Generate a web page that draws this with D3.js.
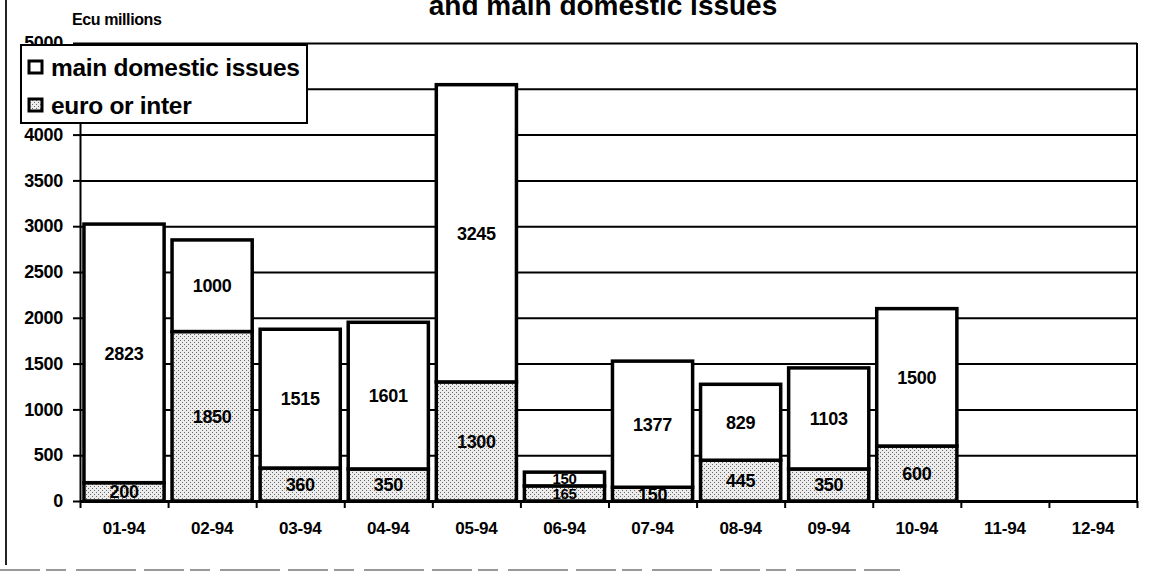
<!DOCTYPE html>
<html>
<head>
<meta charset="utf-8">
<script src="https://cdn.jsdelivr.net/npm/d3@7"></script>
<style>
  body { margin: 0; background: #fff; }
  svg { display: block; font-family: "Liberation Sans", Arial, sans-serif; font-weight: bold; }
</style>
</head>
<body>
<div class="chart"></div>
<script>
// Data
const months = ["01-94", "02-94", "03-94", "04-94", "05-94", "06-94",
                "07-94", "08-94", "09-94", "10-94", "11-94", "12-94"];
const euroOrInter = [200, 1850, 360, 350, 1300, 165, 150, 445, 350, 600, null, null];
const mainDomestic = [2823, 1000, 1515, 1601, 3245, 150, 1377, 829, 1103, 1500, null, null];
const yTicks = [0, 500, 1000, 1500, 2000, 2500, 3000, 3500, 4000, 4500, 5000];
const seriesNames = ["main domestic issues", "euro or inter"];

const W = 1157, H = 572;
const plot = { left: 80, right: 1137, top: 43, bottom: 501 };

const svg = d3.select(".chart")
    .append("svg")
    .attr("width", W)
    .attr("height", H);

// stipple pattern for the "euro or inter" part
const defs = svg.append("defs");
const pat = defs.append("pattern")
    .attr("id", "dots")
    .attr("width", 4)
    .attr("height", 4)
    .attr("patternUnits", "userSpaceOnUse");
pat.append("rect").attr("width", 4).attr("height", 4).attr("fill", "#ececec");
pat.append("rect").attr("x", 0).attr("y", 0).attr("width", 1).attr("height", 1).attr("fill", "#6a6a6a");
pat.append("rect").attr("x", 2).attr("y", 2).attr("width", 1).attr("height", 1).attr("fill", "#6a6a6a");

// scales
const x = d3.scaleBand()
    .domain(months)
    .range([plot.left, plot.right])
    .paddingInner(0.09)
    .paddingOuter(0.045);

const xEdge = d3.scaleLinear()
    .domain([0, months.length])
    .range([plot.left, plot.right]);

const y = d3.scaleLinear()
    .domain([0, 5000])
    .range([plot.bottom, plot.top]);

// outer frame remains of the scanned page
svg.append("line")
    .attr("x1", 6).attr("x2", 6).attr("y1", 0).attr("y2", 565)
    .attr("stroke", "#222").attr("stroke-width", 2);
svg.append("line")
    .attr("x1", 0).attr("x2", 900).attr("y1", 570).attr("y2", 570)
    .attr("stroke", "#999").attr("stroke-width", 2)
    .attr("stroke-dasharray", "40 6 20 10 60 8");

// title (cut off at the top in the original)
svg.append("text")
    .attr("x", 603)
    .attr("y", 15)
    .attr("text-anchor", "middle")
    .attr("font-size", 28)
    .text("and main domestic issues");

svg.append("text")
    .attr("x", 72)
    .attr("y", 25)
    .attr("font-size", 16)
    .attr("letter-spacing", -0.4)
    .text("Ecu millions");

// horizontal gridlines
svg.append("g")
    .attr("class", "grid")
    .attr("transform", `translate(${plot.left},0)`)
    .call(d3.axisLeft(y).tickValues(yTicks.slice(1)).tickSize(-(plot.right - plot.left)).tickFormat(""))
    .call(g => g.select(".domain").remove())
    .call(g => g.selectAll("line").attr("stroke", "#000").attr("stroke-width", 2));

// right border of the plot
svg.append("line")
    .attr("x1", plot.right).attr("x2", plot.right)
    .attr("y1", plot.top).attr("y2", plot.bottom)
    .attr("stroke", "#000").attr("stroke-width", 2);

// y axis
svg.append("g")
    .attr("class", "y-axis")
    .attr("transform", `translate(${plot.left},0)`)
    .call(d3.axisLeft(y).tickValues(yTicks).tickFormat(d3.format("d"))
        .tickSize(7).tickSizeOuter(0).tickPadding(10))
    .call(g => g.select(".domain").attr("stroke", "#000").attr("stroke-width", 2))
    .call(g => g.selectAll("line").attr("stroke", "#000").attr("stroke-width", 2))
    .call(g => g.selectAll("text").attr("font-size", 18).attr("fill", "#000")
        .attr("font-family", "Liberation Sans, Arial, sans-serif").attr("font-weight", "bold")
        .attr("letter-spacing", -0.3));

// stacked bars
const rows = months.map((m, i) => ({ month: m, euro: euroOrInter[i], main: mainDomestic[i] }))
    .filter(d => d.euro != null);

const stack = d3.stack().keys(["euro", "main"]);
const layers = stack(rows);
const fills = { euro: "url(#dots)", main: "#fff" };

const layerG = svg.selectAll(".layer")
    .data(layers)
    .enter()
    .append("g")
    .attr("class", "layer");

layerG.selectAll("rect")
    .data(d => d.map(p => ({ key: d.key, p })))
    .enter()
    .append("rect")
    .attr("x", d => x(d.p.data.month))
    .attr("width", x.bandwidth())
    .attr("y", d => y(d.p[1]))
    .attr("height", d => y(d.p[0]) - y(d.p[1]))
    .attr("fill", d => fills[d.key])
    .attr("stroke", "#000")
    .attr("stroke-width", 3.5);

// segment labels
layerG.selectAll("text")
    .data(d => d.map(p => ({ key: d.key, p })))
    .enter()
    .append("text")
    .attr("x", d => x(d.p.data.month) + x.bandwidth() / 2)
    .attr("y", d => y((d.p[0] + d.p[1]) / 2))
    .attr("dy", "0.36em")
    .attr("text-anchor", "middle")
    .attr("font-size", d => d.p.data.month === "06-94" ? 15 : 18)
    .attr("letter-spacing", -0.3)
    .text(d => d.p.data[d.key]);

// x axis: baseline and ticks at the category edges
svg.append("g")
    .attr("class", "x-axis")
    .attr("transform", `translate(0,${plot.bottom})`)
    .call(d3.axisBottom(xEdge).tickValues(d3.range(months.length + 1)).tickSize(7).tickFormat("").tickSizeOuter(0))
    .call(g => g.select(".domain").attr("stroke", "#000").attr("stroke-width", 3))
    .call(g => g.selectAll("line").attr("stroke", "#000").attr("stroke-width", 2));

svg.append("g")
    .attr("class", "x-labels")
    .attr("transform", `translate(0,${plot.bottom})`)
    .call(d3.axisBottom(x).tickSize(0).tickPadding(21))
    .call(g => g.select(".domain").remove())
    .call(g => g.selectAll("text").attr("font-size", 17).attr("fill", "#000")
        .attr("font-family", "Liberation Sans, Arial, sans-serif").attr("font-weight", "bold")
        .attr("letter-spacing", -0.2));

// legend
const legend = svg.append("g").attr("class", "legend");
legend.append("rect")
    .attr("x", 21).attr("y", 45)
    .attr("width", 286).attr("height", 78)
    .attr("fill", "#fff")
    .attr("stroke", "#000")
    .attr("stroke-width", 2);

const legendY = d3.scalePoint().domain(seriesNames).range([67, 105]);
const legendFill = ["#fff", "url(#dots)"];

legend.selectAll(".swatch")
    .data(seriesNames)
    .enter()
    .append("rect")
    .attr("class", "swatch")
    .attr("x", 29)
    .attr("y", d => legendY(d) - 6)
    .attr("width", 13)
    .attr("height", 12)
    .attr("fill", (d, i) => legendFill[i])
    .attr("stroke", "#000")
    .attr("stroke-width", 3);

legend.selectAll(".label")
    .data(seriesNames)
    .enter()
    .append("text")
    .attr("class", "label")
    .attr("x", 51)
    .attr("y", d => legendY(d))
    .attr("dy", "0.36em")
    .attr("font-size", 24.5)
    .attr("letter-spacing", -0.3)
    .text(d => d);
</script>
</body>
</html>
